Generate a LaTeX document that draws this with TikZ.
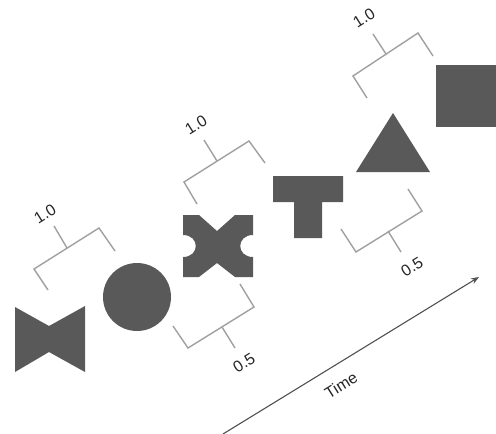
\documentclass[tikz,border=0pt]{standalone}
\usepackage{fontspec}
\setmainfont{Liberation Sans}
\usetikzlibrary{arrows.meta}
\definecolor{shapegray}{HTML}{595959}
\definecolor{brackgray}{HTML}{A0A0A0}
\definecolor{arrowgray}{HTML}{505050}
\tikzset{
  shapefill/.style={fill=shapegray, draw=none},
  bracket/.style={draw=brackgray, line width=1.4pt, line join=miter},
  lbl/.style={font=\fontsize{16}{16}\selectfont, text=black!85, inner sep=0pt, rotate=32},
  timearrow/.style={draw=arrowgray, line width=1.1pt, -{Stealth[length=8pt,width=6pt]}}
}
\begin{document}
\begin{tikzpicture}[x=1pt,y=-1pt]
\useasboundingbox (0,0) rectangle (496,434);
% shapes
\path[shapefill] (15,307) -- (49,326) -- (85,306) -- (85,372) -- (49,352) -- (15,372) -- cycle;
\path[shapefill] (137,297) circle[radius=34];
\path[shapefill] (183,215) -- (199,215) -- (217,231) -- (235,215) -- (253,215) -- (253,235)
  .. controls (236,235) and (236,257) .. (253,257) -- (253,277) -- (235,277) -- (217,263)
  -- (199,277) -- (183,277) -- (183,257) .. controls (200,257) and (200,235) .. (183,235) -- cycle;
\path[shapefill] (273,176) -- (343,176) -- (343,202) -- (322,202) -- (322,238) -- (294,238)
  -- (294,202) -- (273,202) -- cycle;
\path[shapefill] (393,113) -- (430,172) -- (356,172) -- cycle;
\path[shapefill] (436,65) rectangle (496,127);
% brackets
\draw[bracket] (48,290) -- (34,269) -- (99,228) -- (115,251);
\draw[bracket] (67,248) -- (54,226);
\node[lbl] (l1) at (45,214) {1.0};
\draw[bracket] (197,204) -- (184,182) -- (249,141) -- (265,163);
\draw[bracket] (217,161) -- (204,140);
\node[lbl] (l2) at (196,125) {1.0};
\draw[bracket] (240,284) -- (254,307) -- (188,348) -- (173,326);
\draw[bracket] (222,327) -- (235,348);
\node[lbl] (l3) at (244,363) {0.5};
\draw[bracket] (367,98) -- (353,76) -- (418,33) -- (433,56);
\draw[bracket] (386,54) -- (373,34);
\node[lbl] (l4) at (364,18) {1.0};
\draw[bracket] (408,189) -- (422,211) -- (356,252) -- (341,229);
\draw[bracket] (388,231) -- (401,252);
\node[lbl] (l5) at (412,267) {0.5};
% time arrow
\coordinate (t0) at (223,434);
\coordinate (t1) at (479,277);
\draw[timearrow] (t0) -- (t1);
\node[lbl] (time) at (341,385) {Time};
\end{tikzpicture}
\end{document}
